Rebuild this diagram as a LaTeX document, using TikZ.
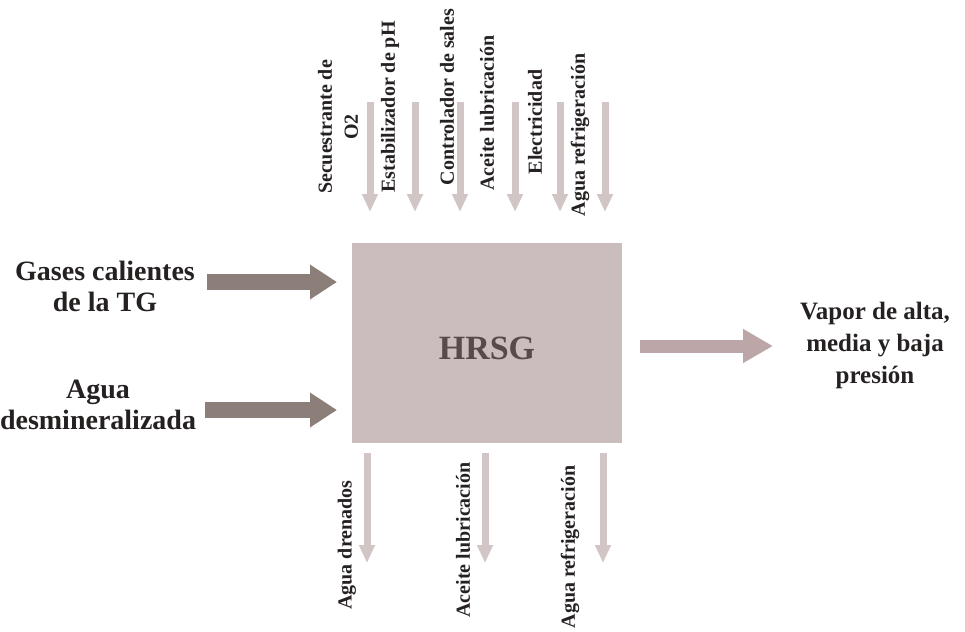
\documentclass[tikz,border=0pt]{standalone}
\usepackage{fontspec}
\setmainfont{Liberation Serif}
\usetikzlibrary{arrows.meta}

\definecolor{boxfill}{RGB}{203,189,189}
\definecolor{thinarrow}{RGB}{210,197,197}
\definecolor{inarrow}{RGB}{140,126,120}
\definecolor{outarrow}{RGB}{188,166,167}
\definecolor{textdark}{RGB}{38,33,33}
\definecolor{hrsgtext}{RGB}{88,74,72}

\begin{document}
\begin{tikzpicture}[x=1pt,y=-1pt,
  vlabel/.style={text=textdark,font=\bfseries\fontsize{20}{26}\selectfont,
    rotate=90,inner sep=0pt,align=center},
  sidelabel/.style={text=textdark,font=\bfseries\fontsize{28}{31}\selectfont,
    align=center,inner sep=0pt},
  outlabel/.style={text=textdark,font=\bfseries\fontsize{25}{32}\selectfont,
    align=center,inner sep=0pt},
  thinflow/.style={draw=thinarrow,line width=7pt,
    -{Triangle[width=15pt,length=18pt]}},
  inflow/.style={draw=inarrow,line width=16pt,
    -{Triangle[width=33pt,length=27pt]}},
  outflow/.style={draw=outarrow,line width=13pt,
    -{Triangle[width=32pt,length=30pt]}}]
\useasboundingbox (0,0) rectangle (965,631);

% central unit
\node[fill=boxfill,minimum width=270pt,minimum height=200pt,inner sep=0pt]
  (hrsg) at (487,343) {};
\node[text=hrsgtext,font=\bfseries\fontsize{34}{40}\selectfont,inner sep=0pt]
  (hrsglabel) at (487,348) {HRSG};

% auxiliary inputs from above
\foreach \i/\x in {1/370,2/415,3/460,4/515,5/560,6/605}{
  \coordinate (top\i s) at (\x,102);
  \coordinate (top\i e) at (\x,212);
  \draw[thinflow] (top\i s) -- (top\i e);
}
\node[vlabel] (secuestrante) at (338,127) {Secuestrante de\\O2};
\node[vlabel] (estabilizador) at (390,107) {Estabilizador de pH};
\node[vlabel] (controlador) at (447,97) {Controlador de sales};
\node[vlabel] (aceitein) at (487,113) {Aceite lubricación};
\node[vlabel] (electricidad) at (535,122) {Electricidad};
\node[vlabel] (refrigin) at (580,135) {Agua refrigeración};

% outputs below
\foreach \i/\x in {1/367,2/485,3/603}{
  \coordinate (bot\i s) at (\x,453);
  \coordinate (bot\i e) at (\x,563);
  \draw[thinflow] (bot\i s) -- (bot\i e);
}
\node[vlabel] (drenados) at (347,545) {Agua drenados};
\node[vlabel] (aceiteout) at (463,540) {Aceite lubricación};
\node[vlabel] (refrigout) at (570,547) {Agua refrigeración};

% main inputs
\node[sidelabel] (gases) at (105,286) {Gases calientes\\de la TG};
\node[sidelabel] (agua) at (98,405) {Agua\\desmineralizada};
\coordinate (gasesend) at (337,282);
\coordinate (aguaend) at (337,410);
\draw[inflow] (207,282) coordinate (gasesstart) -- (gasesend);
\draw[inflow] (205,410) coordinate (aguastart) -- (aguaend);

% main output
\coordinate (vaporstart) at (640,346);
\coordinate (vaporend) at (773,346);
\draw[outflow] (vaporstart) -- (vaporend);
\node[outlabel] (vapor) at (875,345) {Vapor de alta,\\media y baja\\presión};
\end{tikzpicture}
\end{document}
